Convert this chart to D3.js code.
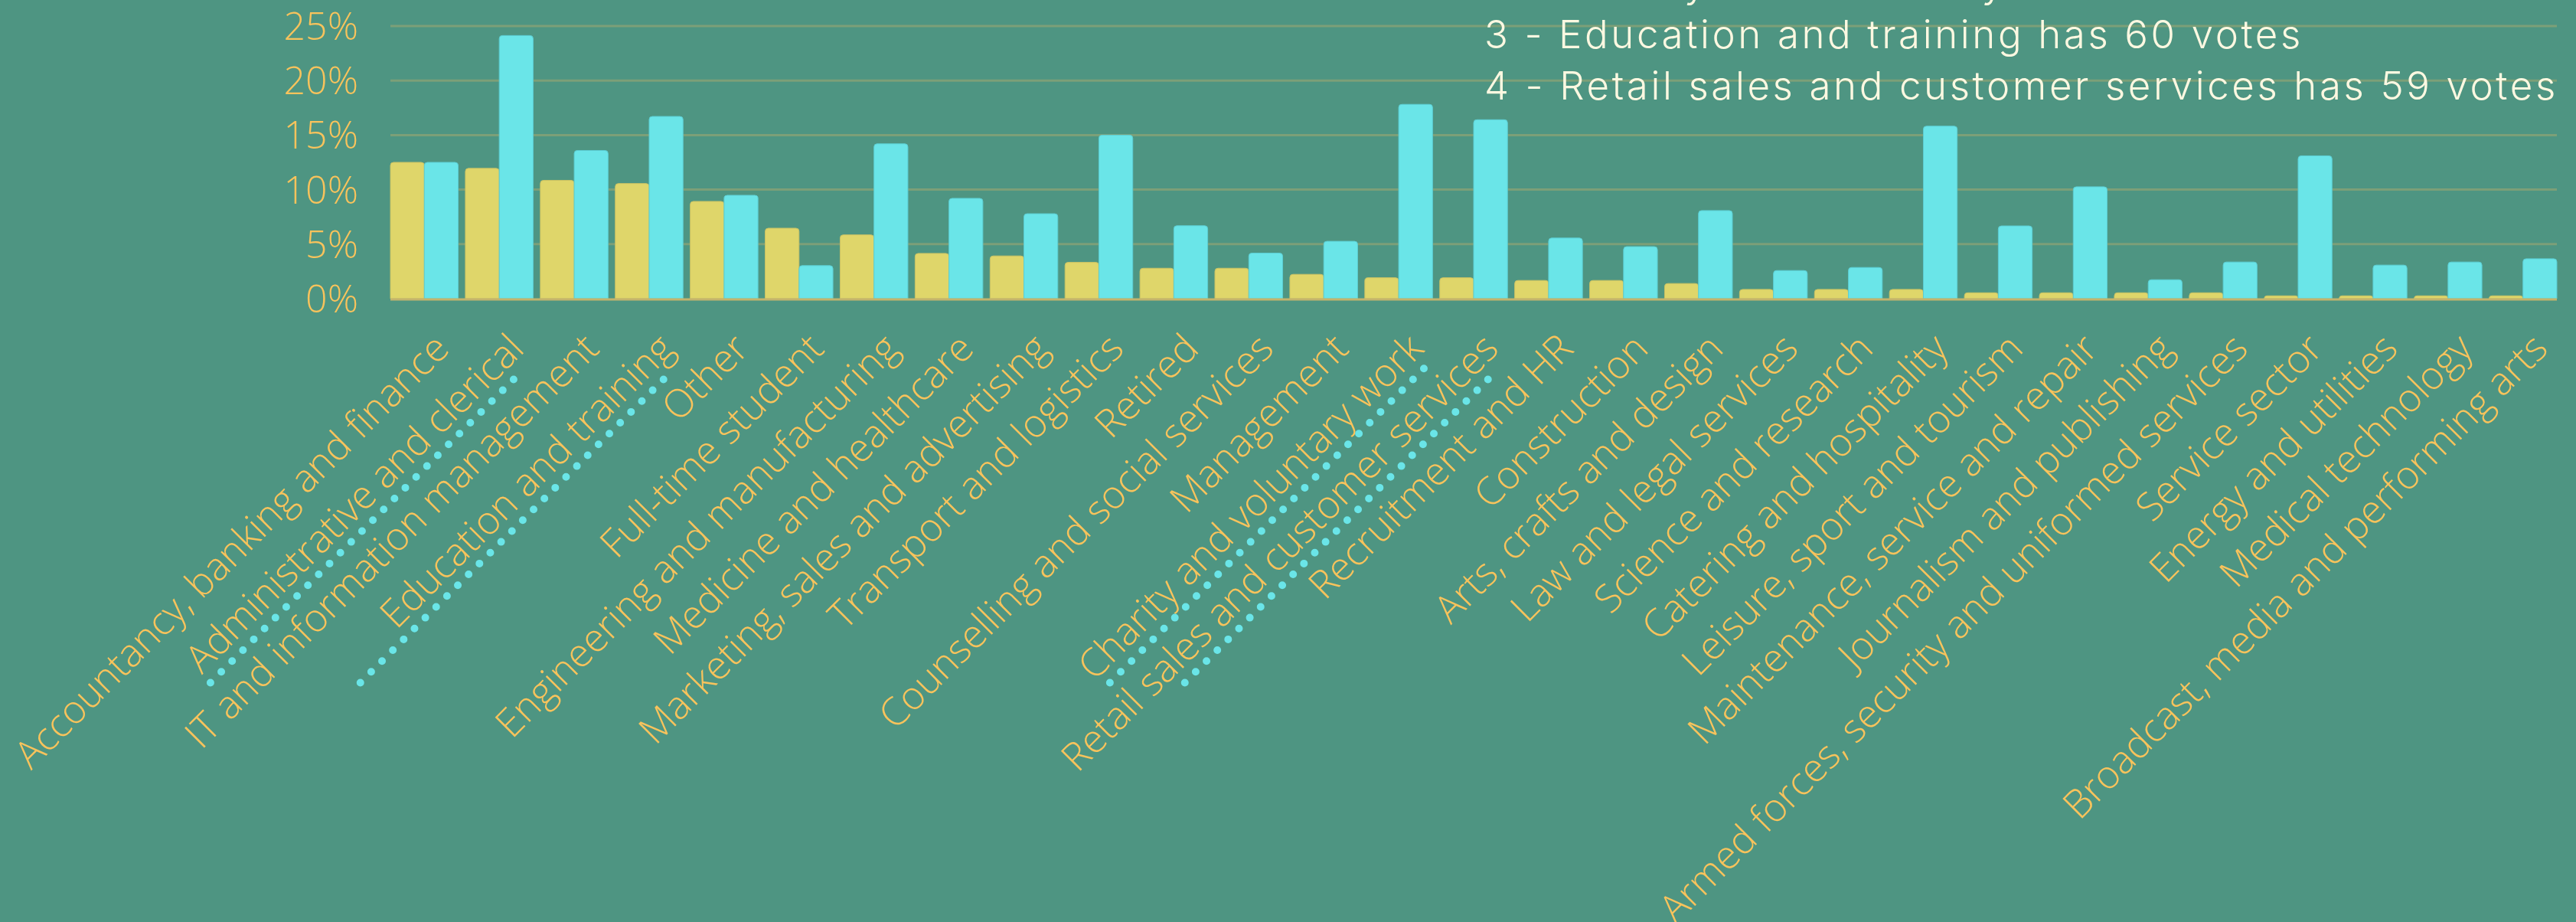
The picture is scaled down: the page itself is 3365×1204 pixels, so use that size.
<!DOCTYPE html>
<html>
<head>
<meta charset="utf-8">
<script src="https://cdn.jsdelivr.net/npm/d3@7"></script>
<style>
  html, body { margin: 0; padding: 0; background: #4e9582; overflow: hidden; }
  svg { display: block; }
</style>
</head>
<body>
<svg id="chart" width="3365" height="1204"></svg>
<script>
'use strict';

// categories, in the order of the chart
const categories = [
    "Accountancy, banking and finance",
    "Administrative and clerical",
    "IT and information management",
    "Education and training",
    "Other",
    "Full-time student",
    "Engineering and manufacturing",
    "Medicine and healthcare",
    "Marketing, sales and advertising",
    "Transport and logistics",
    "Retired",
    "Counselling and social services",
    "Management",
    "Charity and voluntary work",
    "Retail sales and customer services",
    "Recruitment and HR",
    "Construction",
    "Arts, crafts and design",
    "Law and legal services",
    "Science and research",
    "Catering and hospitality",
    "Leisure, sport and tourism",
    "Maintenance, service and repair",
    "Journalism and publishing",
    "Armed forces, security and uniformed services",
    "Service sector",
    "Energy and utilities",
    "Medical technology",
    "Broadcast, media and performing arts"
];

// yellow series, %
const yellowValues = [12.5, 11.95, 10.85, 10.56, 8.92, 6.46, 5.85, 4.15, 3.92, 3.33,
    2.79, 2.79, 2.23, 1.92, 1.92, 1.67, 1.67, 1.39, 0.85, 0.85,
    0.85, 0.54, 0.54, 0.54, 0.54, 0.26, 0.26, 0.26, 0.26];

// cyan series, %
const cyanValues = [12.5, 24.13, 13.59, 16.71, 9.48, 3.03, 14.2, 9.2, 7.79, 15.0,
    6.69, 4.18, 5.26, 17.82, 16.41, 5.56, 4.77, 8.08, 2.58, 2.86,
    15.82, 6.67, 10.26, 1.74, 3.36, 13.1, 3.08, 3.36, 3.66];

const yTicks = [0, 5, 10, 15, 20, 25];

// the four most voted, listed top right and dotted under their labels
const topNames = [
    "Administrative and clerical",
    "Charity and voluntary work",
    "Education and training",
    "Retail sales and customer services"
];
const topVotes = [87, 64, 60, 59];

const W = 3365, H = 1204;
const margin = { top: 34, right: 25, bottom: 814, left: 510 };

const colors = {
    bg: "#4e9582",
    grid: "#7c9f78",
    base: "#c4b46c",
    text: "#f8c35c",
    note: "#fdf8e1",
    yellow: "#dfd66a",
    yellowEdge: "#c9c264",
    cyan: "#6ae5e8",
    cyanEdge: "#5ccdd2"
};

const svg = d3.select("#chart");
svg.append("rect").attr("width", W).attr("height", H).attr("fill", colors.bg);

const x0 = d3.scaleBand()
    .domain(categories)
    .range([margin.left, W - margin.right])
    .paddingInner(0.096)
    .paddingOuter(0);

const series = ["yellow", "cyan"];
const x1 = d3.scaleBand().domain(series).range([0, x0.bandwidth()]).padding(0);

const y = d3.scaleLinear().domain([0, 25]).range([H - margin.bottom, margin.top]);

// grid lines
svg.append("g")
    .selectAll("line")
    .data(yTicks.filter(d => d > 0))
    .join("line")
    .attr("x1", margin.left)
    .attr("x2", W - margin.right)
    .attr("y1", d => y(d))
    .attr("y2", d => y(d))
    .attr("stroke", colors.grid)
    .attr("stroke-width", 3);

// y tick labels
svg.append("g")
    .selectAll("text")
    .data(yTicks)
    .join("text")
    .attr("x", margin.left - 42)
    .attr("y", d => y(d))
    .attr("dy", "0.36em")
    .attr("text-anchor", "end")
    .attr("font-family", "'Open Sans', sans-serif")
    .attr("font-weight", 300)
    .attr("font-size", 50)
    .attr("fill", colors.text)
    .text(d => d + "%");

// bars with slightly rounded tops
function topRounded(x, yTop, w, yBottom, r) {
    const p = d3.path();
    const rr = Math.min(r, (yBottom - yTop), w / 2);
    p.moveTo(x, yBottom);
    p.lineTo(x, yTop + rr);
    p.arcTo(x, yTop, x + rr, yTop, rr);
    p.lineTo(x + w - rr, yTop);
    p.arcTo(x + w, yTop, x + w, yTop + rr, rr);
    p.lineTo(x + w, yBottom);
    p.closePath();
    return p.toString();
}

const rows = categories.map((c, i) => ({ cat: c, yellow: yellowValues[i], cyan: cyanValues[i] }));

const groups = svg.append("g")
    .selectAll("g")
    .data(rows)
    .join("g")
    .attr("transform", d => `translate(${x0(d.cat)},0)`);

groups.selectAll("path")
    .data(d => series.map(s => ({ key: s, value: d[s] })))
    .join("path")
    .attr("d", d => topRounded(x1(d.key), y(d.value), x1.bandwidth(), y(0), 4))
    .attr("fill", d => colors[d.key])
    .attr("stroke", d => colors[d.key + "Edge"])
    .attr("stroke-width", 1);

// baseline
svg.append("line")
    .attr("x1", margin.left)
    .attr("x2", W - margin.right)
    .attr("y1", y(0) + 1)
    .attr("y2", y(0) + 1)
    .attr("stroke", colors.base)
    .attr("stroke-width", 3);

// rotated category labels
const labelDx = 35, labelDy = 68;
const labels = svg.append("g")
    .selectAll("g")
    .data(categories)
    .join("g")
    .attr("transform", d => `translate(${x0(d) + x0.bandwidth() / 2 + labelDx},${y(0) + labelDy}) rotate(-45)`);

labels.append("text")
    .attr("text-anchor", "end")
    .attr("font-family", "'Open Sans', sans-serif")
    .attr("font-weight", 300)
    .attr("font-size", 51)
    .attr("fill", colors.text)
    .text(d => d);

// dotted underline under the four most voted (same length for all four)
const dotLen = 580;
labels.filter(d => topNames.includes(d))
    .append("line")
    .attr("x1", -18 - dotLen)
    .attr("x2", -18)
    .attr("y1", 15)
    .attr("y2", 15)
    .attr("stroke", colors.cyan)
    .attr("stroke-width", 10)
    .attr("stroke-linecap", "round")
    .attr("stroke-dasharray", "0 20");

// note, top right
const noteX = 1939, noteY0 = 62.7 - 2 * 67, noteStep = 67;
svg.append("g")
    .selectAll("text")
    .data(topNames)
    .join("text")
    .attr("x", noteX)
    .attr("y", (d, i) => noteY0 + i * noteStep)
    .attr("font-family", "Inter, Lato, sans-serif")
    .attr("font-weight", 300)
    .attr("font-size", 51)
    .attr("letter-spacing", 3.6)
    .attr("fill", colors.note)
    .text((d, i) => `${i + 1} - ${d} has ${topVotes[i]} votes`);
</script>
</body>
</html>
